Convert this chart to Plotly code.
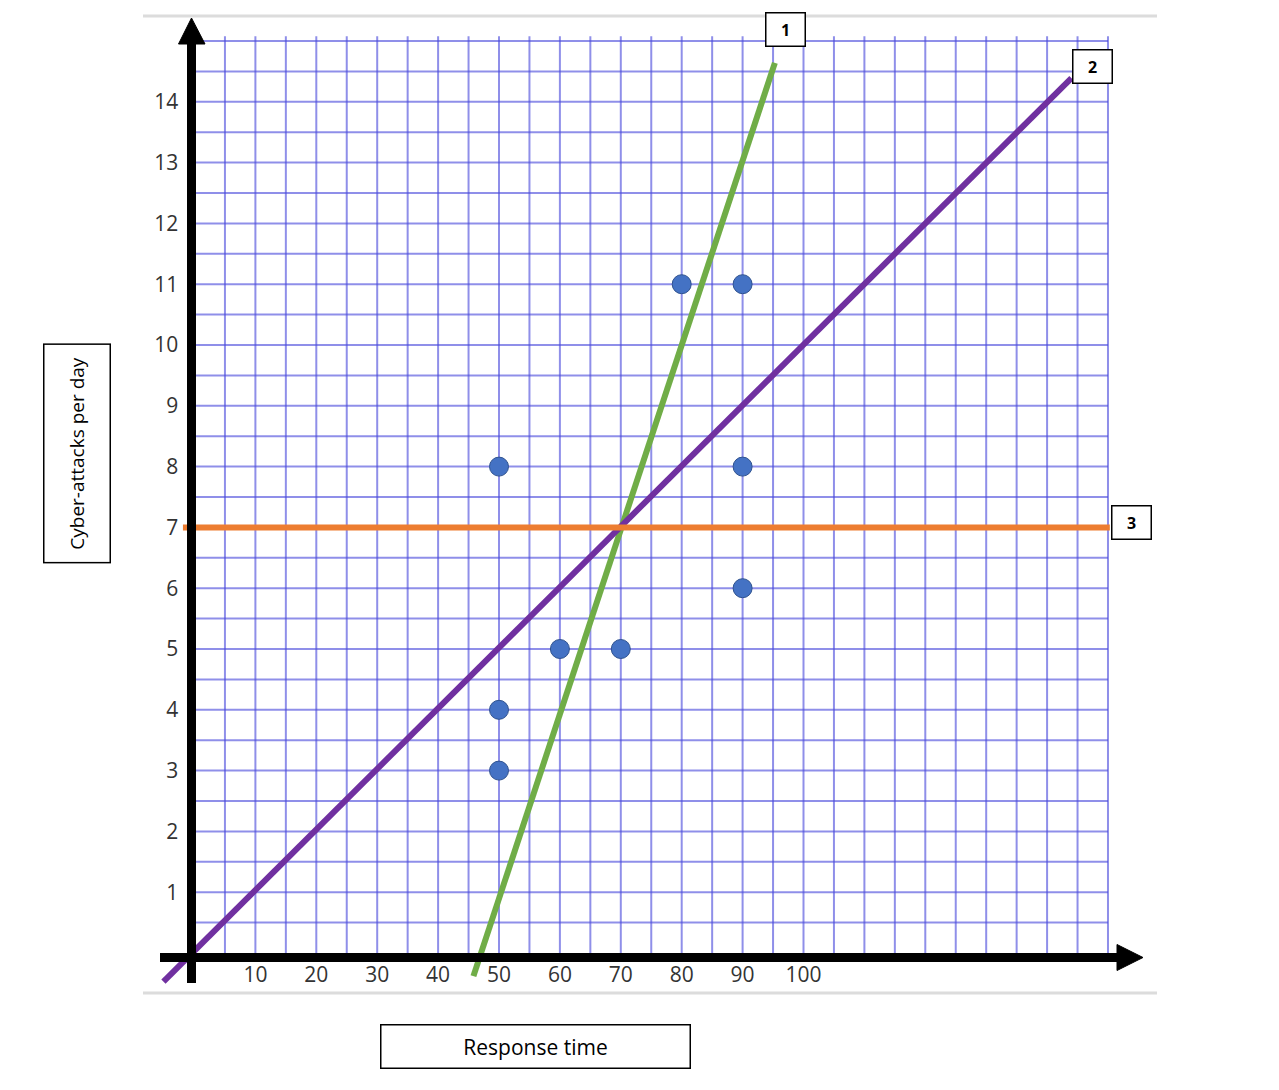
import numpy as np
import plotly.graph_objects as go

# data
response_time = [50, 50, 50, 60, 70, 80, 90, 90, 90]
attacks_per_day = [8, 4, 3, 5, 5, 11, 11, 8, 6]

line1_x = [45.8, 95.3]
line1_y = [-0.38, 14.64]
line2_x = [-5.1, 144.0]
line2_y = [-0.47, 14.39]
line3_x = [-1.9, 150.3]
line3_y = [7, 7]

x_ticks = [10, 20, 30, 40, 50, 60, 70, 80, 90, 100]
y_ticks = [1, 2, 3, 4, 5, 6, 7, 8, 9, 10, 11, 12, 13, 14]
line_labels = ["1", "2", "3"]

# colours
GREEN = "#70AD47"
PURPLE = "#7030A0"
ORANGE = "#ED7D31"
DOT = "#4472C4"
GRID = "rgba(75,75,220,0.62)"

# page has an 8px body margin, so the figure is 8px smaller and shifted
OFF = 8
W, H = 1279 - OFF, 1090 - OFF
L, R, T, B = 140 - OFF, 119, 10 - OFF, 90


# window pixel -> paper helpers for the overlay furniture
def px(x):
    return (x - OFF - L) / (W - L - R)


def py(y):
    return (H - B - (y - OFF)) / (H - T - B)


fig = go.Figure()

fig.add_trace(go.Scatter(x=line1_x, y=line1_y, mode="lines",
                         line=dict(color=GREEN, width=6), hoverinfo="skip"))
fig.add_trace(go.Scatter(x=line2_x, y=line2_y, mode="lines",
                         line=dict(color=PURPLE, width=6), hoverinfo="skip"))
fig.add_trace(go.Scatter(x=line3_x, y=line3_y, mode="lines",
                         line=dict(color=ORANGE, width=6), hoverinfo="skip"))
fig.add_trace(go.Scatter(x=response_time, y=attacks_per_day, mode="markers",
                         marker=dict(color=DOT, size=19,
                                     line=dict(color="#2F528F", width=1))))

shapes = []
# graph-paper grid
for gx in np.arange(5, 151, 5):
    shapes.append(dict(type="line", xref="x", yref="y", x0=gx, x1=gx, y0=0, y1=15.08,
                       line=dict(color=GRID, width=2), layer="below"))
for gy in np.arange(0.5, 15.01, 0.5):
    shapes.append(dict(type="line", xref="x", yref="y", x0=0, x1=150, y0=gy, y1=gy,
                       line=dict(color=GRID, width=2), layer="below"))

# light grey frame lines top and bottom
for yy in (16, 993):
    shapes.append(dict(type="line", xref="paper", yref="paper",
                       x0=px(143), x1=px(1157), y0=py(yy), y1=py(yy),
                       line=dict(color="#dcdcdc", width=3)))

# thick black axes with arrow heads
shapes.append(dict(type="line", xref="paper", yref="paper",
                   x0=px(191.5), x1=px(191.5), y0=py(983), y1=py(40),
                   line=dict(color="black", width=9)))
shapes.append(dict(type="line", xref="paper", yref="paper",
                   x0=px(160), x1=px(1120), y0=py(957.5), y1=py(957.5),
                   line=dict(color="black", width=9)))
shapes.append(dict(type="path", xref="paper", yref="paper",
                   path=f"M {px(178.5)} {py(44)} L {px(191.5)} {py(18)} L {px(205)} {py(44)} Z",
                   fillcolor="black", line=dict(color="black", width=1)))
shapes.append(dict(type="path", xref="paper", yref="paper",
                   path=f"M {px(1117)} {py(944.5)} L {px(1143)} {py(957.5)} L {px(1117)} {py(970.5)} Z",
                   fillcolor="black", line=dict(color="black", width=1)))

annotations = []
# numbered boxes at the line ends
for lab, (cx, cy) in zip(line_labels, [(785.5, 29.5), (1092, 66.5), (1131.5, 522)]):
    annotations.append(dict(xref="paper", yref="paper", x=px(cx), y=py(cy),
                            xanchor="center", yanchor="middle",
                            text=f"<b>{lab}</b>", showarrow=False,
                            width=38, height=32, borderpad=0,
                            bordercolor="black", borderwidth=1.5, bgcolor="white",
                            font=dict(family="Open Sans", size=16, color="black")))

# axis titles in boxes
annotations.append(dict(xref="paper", yref="paper", x=px(535.5), y=py(1046),
                        xanchor="center", yanchor="middle",
                        text="Response time", showarrow=False,
                        width=308, height=42, borderpad=0,
                        bordercolor="black", borderwidth=1.5, bgcolor="white",
                        font=dict(family="Open Sans", size=21, color="black")))
annotations.append(dict(xref="paper", yref="paper", x=px(76.7), y=py(453.7),
                        xanchor="center", yanchor="middle",
                        text="Cyber-attacks per day", showarrow=False, textangle=-90,
                        width=217, height=65, borderpad=0,
                        bordercolor="black", borderwidth=1.5, bgcolor="white",
                        font=dict(family="Open Sans", size=19, color="black")))

fig.update_layout(
    width=W, height=H,
    margin=dict(l=L, r=R, t=T, b=B),
    paper_bgcolor="white", plot_bgcolor="white",
    showlegend=False,
    shapes=shapes,
    annotations=annotations,
    xaxis=dict(range=[-8.95, 158.54], tickvals=x_ticks, anchor="free", position=py(953),
               showgrid=False, zeroline=False, showline=False,
               ticks="outside", ticklen=3, tickcolor="rgba(0,0,0,0)",
               tickfont=dict(family="Open Sans", size=21, color="#333333")),
    yaxis=dict(range=[-0.773, 15.51], tickvals=y_ticks, anchor="free", position=px(191.5),
               showgrid=False, zeroline=False, showline=False,
               ticks="outside", ticklen=9, tickcolor="rgba(0,0,0,0)",
               tickfont=dict(family="Open Sans", size=21, color="#333333")),
)

fig.write_html("out.html")
